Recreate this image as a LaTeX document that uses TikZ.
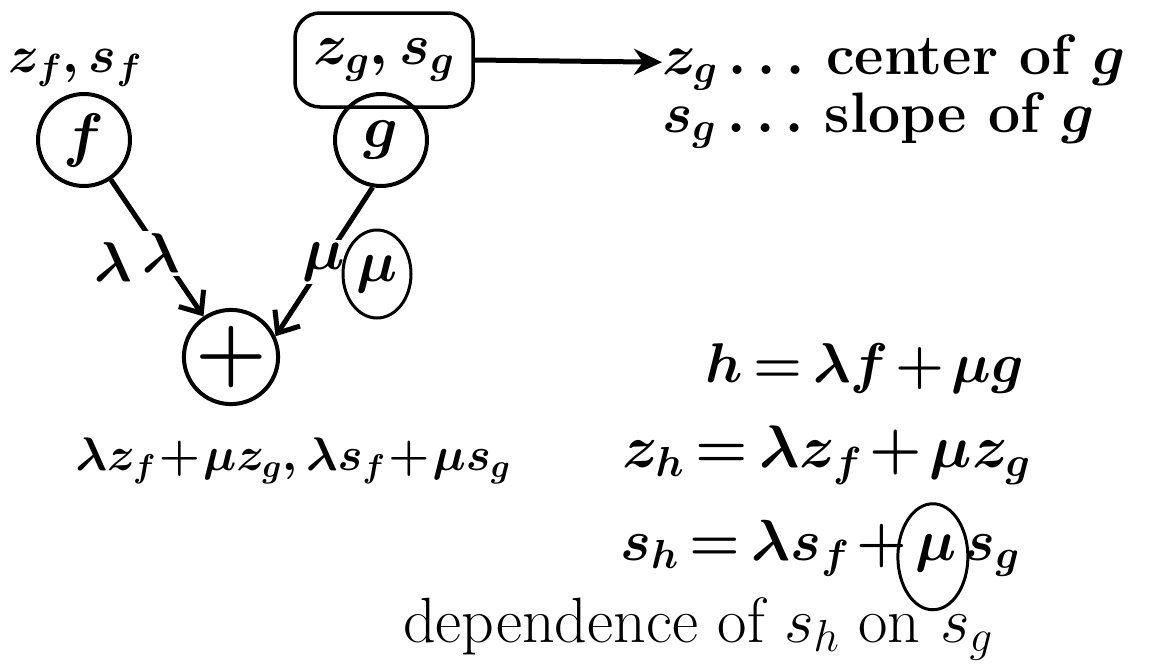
\RequirePackage{fix-cm}
\documentclass[tikz,border=0pt]{standalone}
\usetikzlibrary{arrows.meta,shapes.geometric}
\newcommand\fsz[1]{\fontsize{#1}{#1}\selectfont}
\newcommand\tightmath{\medmuskip=2mu\thickmuskip=3mu}
\newcommand\tinymath{\medmuskip=1mu\thickmuskip=2mu}
\begin{document}
\begin{tikzpicture}[x=1pt,y=-1pt,
  every node/.style={inner sep=0pt},
  lab/.style={font=\fsz{58}\boldmath\tightmath},
  ring/.style={circle, draw, line width=4pt, minimum size=92pt, font=\fsz{60}\boldmath},
  eq/.style={font=\fsz{60}\boldmath\tightmath},
  txt/.style={font=\fsz{57}\bfseries\boldmath},
  thin/.style={font=\fsz{64}},
  edge/.style={line width=5pt, -{Straight Barb[length=18pt,width=30pt,line width=5pt]}},
  toparrow/.style={line width=5pt, -{Stealth[length=28pt,width=26pt]}},
  loop/.style={ellipse, draw, line width=3pt}
]
\useasboundingbox (0,0) rectangle (1154,664);
% nodes
\node[ring] (f) at (84,140) {$f$};
\node[ring] (g) at (381,140) {$g$};
\node[ring, minimum size=88pt, font=\fsz{82}\bfseries] (p) at (231,357) {+};
\node[lab, font=\fsz{52}\boldmath, anchor=base] (zf) at (75,72) {$z_f,s_f$};
\node[lab, draw, rounded corners=25pt, line width=3.5pt, minimum width=178pt, minimum height=94pt] (zg) at (384,60) {$z_g,s_g$};
\node[txt, anchor=base west] (c1) at (662,74) {$z_g\ldots$ center of $g$};
\node[txt, anchor=base west] (c2) at (662,132) {$s_g\ldots$ slope of $g$};
\draw[toparrow] (zg.east) -- (c1.west);
% edges
\draw[edge] (f) -- node[lab, font=\fsz{56}\boldmath, fill=white, pos=0.54, inner sep=3pt] (l2) {$\lambda$} (p);
\node[lab, font=\fsz{56}\boldmath] (l1) at (113,262) {$\lambda$};
\draw[edge] (g.-100) -- node[lab, font=\fsz{60}\boldmath, fill=white, pos=0.5, inner sep=3pt] (m1) {$\mu$} (p.25);
\node[lab, loop, font=\fsz{58}\boldmath, minimum width=68pt, minimum height=88pt] (m2) at (377,274) {$\mu$};
\node[lab, font=\fsz{47}\boldmath\tinymath, anchor=base] (sum) at (293,470) {$\lambda z_f+\mu z_g,\lambda s_f+\mu s_g$};
% equations
\node[eq, font=\fsz{56}\boldmath\tightmath, anchor=base west] (e1) at (705,382) {$h=\lambda f+\mu g$};
\node[eq, anchor=base west] (e2) at (622,467) {$z_h=\lambda z_f+\mu z_g$};
\node[eq, font=\fsz{58}\boldmath\tightmath, anchor=base west] (e3a) at (620,560) {$s_h=\lambda s_f+{}$};
\node[eq, font=\fsz{58}\boldmath, anchor=base west] (e3m) at (e3a.base east) {$\mu$};
\node[eq, font=\fsz{58}\boldmath, anchor=base west] (e3b) at ([xshift=8pt]e3m.base east) {$s_g$};
\node[loop, minimum width=70pt, minimum height=106pt] (c3) at ([xshift=-3pt,yshift=-4pt]e3m.center) {};
\node[thin, anchor=base west] (d) at (403,642) {dependence of $s_h$ on $s_g$};
\end{tikzpicture}
\end{document}
